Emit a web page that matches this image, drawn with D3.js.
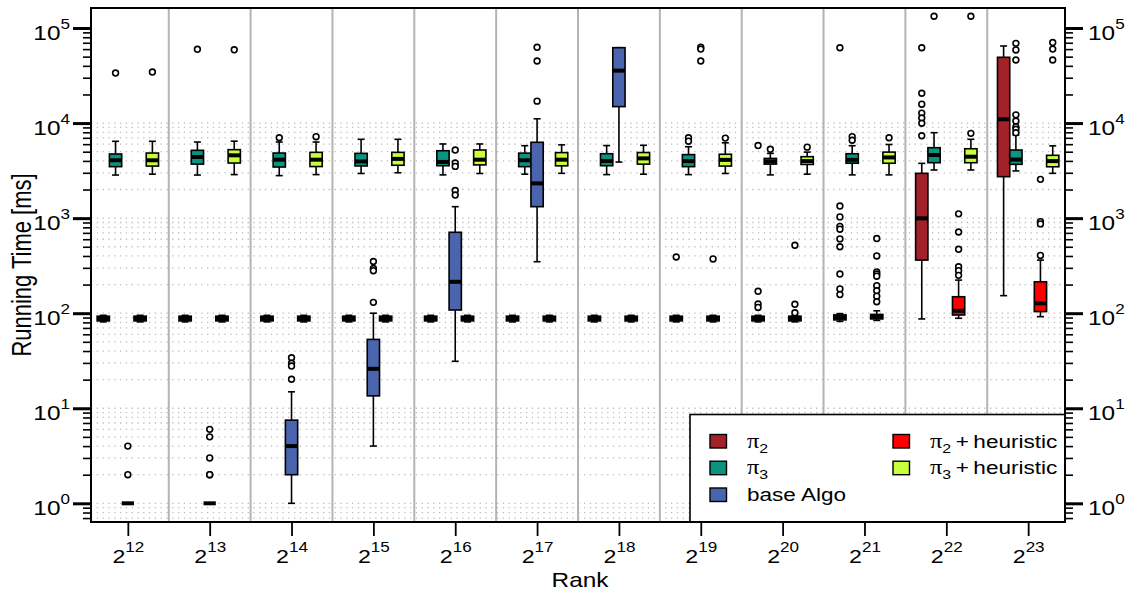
<!DOCTYPE html>
<html>
<head>
<meta charset="utf-8">
<script src="https://cdn.jsdelivr.net/npm/d3@7"></script>
<style>
  body { margin: 0; background: #fff; }
  text { font-family: "Liberation Sans", Arial, sans-serif; fill: #000; }
</style>
</head>
<body>
<svg id="chart"></svg>
<script>
// ranks are 2^12 .. 2^23
const ranks = [12, 13, 14, 15, 16, 17, 18, 19, 20, 21, 22, 23];
const seriesNames = ["π2", "π3", "base Algo", "π2 + heuristic", "π3 + heuristic"];

// box stats per rank: [whisker low, q1, median, q3, whisker high] (ms)
const pi2Stats = [
  [81, 83, 88, 93, 95], [81, 83, 88, 93, 95], [81, 83, 88, 93, 95], [81, 83, 88, 93, 95],
  [81, 83, 88, 93, 95], [81, 83, 88, 93, 95], [81, 83, 88, 93, 95], [81, 83, 88, 93, 95],
  [81, 83, 88, 93, 95], [82, 85, 90, 96, 99], [87, 362, 995, 2960, 3770], [153, 2730, 10960, 49200, 64700]
];
const pi3Stats = [
  [2840, 3480, 4060, 4730, 6430], [2840, 3700, 4400, 5170, 6320], [2800, 3450, 4120, 4840, 6320],
  [2950, 3540, 3950, 4800, 6750], [2850, 3560, 3900, 5120, 6030], [2900, 3480, 4060, 4830, 5780],
  [2870, 3560, 3980, 4760, 5800], [2870, 3480, 3980, 4660, 5640], [2850, 3700, 3950, 4250, 4800],
  [2850, 3780, 4100, 4760, 5780], [3210, 3830, 4610, 5510, 7920], [3140, 3680, 4130, 5210, 7500]
];
const baseStats = [
  [1, 1, 1, 1, 1], [1, 1, 1, 1, 1], [1, 2, 4, 7.5, 14.9], [4, 13.5, 26, 53, 100],
  [31.2, 108, 214, 710, 1320], [348, 1320, 2320, 6280, 11100], [3890, 14900, 35600, 62100, 62100],
  null, null, null, null, null
];
const pi2hStats = [
  [81, 83, 88, 93, 95], [81, 83, 88, 93, 95], [81, 83, 88, 93, 95], [81, 83, 88, 93, 95],
  [81, 83, 88, 93, 95], [81, 83, 88, 93, 95], [81, 83, 88, 93, 95], [81, 83, 88, 93, 95],
  [81, 83, 88, 93, 95], [84, 87, 92, 97, 106], [88.4, 95.7, 106, 149, 223], [92, 104, 127, 214, 362]
];
const pi3hStats = [
  [2900, 3530, 4060, 4840, 6430], [2870, 3800, 4580, 5250, 6450], [2870, 3490, 4120, 4920, 6320],
  [3000, 3600, 4200, 4920, 6750], [2950, 3630, 4120, 5210, 6030], [2960, 3550, 4120, 4890, 5900],
  [2900, 3700, 4250, 4900, 5840], [2950, 3530, 4100, 4700, 6200], [2900, 3670, 3980, 4430, 4950],
  [2850, 3780, 4350, 4950, 5950], [3210, 3830, 4430, 5370, 6750], [2960, 3470, 3980, 4580, 5760]
];

// outliers per rank
const pi2Out = [[], [], [], [], [], [], [], [390], [5800, 170, 125, 115],
  [62000, 1340, 1030, 820, 765, 605, 500, 258, 180, 157],
  [62000, 20600, 15800, 12700, 11300, 9960, 7360], []];
const pi3Out = [[33600], [59700], [7010], [], [], [], [], [7000, 6450], [5300], [7200, 6600],
  [133000], [69000, 58800, 46100, 12200, 10500, 9100, 8600, 7900]];
const baseOut = [[4, 2], [6, 5, 3, 2, 2], [34, 29.7, 27.8, 20.2], [350, 295, 280, 130],
  [5200, 3800, 3500, 1950, 1750], [62700, 45000, 17000], [], [62700, 60000, 45000], [], [], [], []];
const pi2hOut = [[], [], [], [], [], [], [], [372], [518, 124, 101],
  [610, 400, 272, 258, 245, 195, 172, 151, 132], [1110, 715, 470, 308, 280, 250], [2560, 920, 870, 405]];
const pi3hOut = [[34400], [59000], [7190], [], [], [], [], [6950], [5580], [7010], [133000, 7800],
  [70300, 60000, 46100]];

const yMajor = [1, 10, 100, 1000, 10000, 100000];

const colors = ["#a3222a", "#0a937f", "#4a65ad", "#ff0000", "#c8ff3c"];
const allStats = [pi2Stats, pi3Stats, baseStats, pi2hStats, pi3hStats];
const allOut = [pi2Out, pi3Out, baseOut, pi2hOut, pi3hOut];

const width = 1127, height = 590;
const pLeft = 91, pRight = 1065, pTop = 8, pBottom = 522;
const stretch = 1.22;   // text in the reference is a bit wide

const svg = d3.select("#chart").attr("width", width).attr("height", height);

const x = d3.scaleLinear().domain([-0.45, ranks.length - 0.55]).range([pLeft, pRight]);
const y = d3.scaleLog().domain([0.636, 162400]).range([pBottom, pTop]);
const slotW = 0.15;
const slot = s => (s - 2) * slotW;

// minor values for ticks and grid
let minors = [];
for (let k = -1; k <= 5; k++) {
  for (let m = 2; m <= 9; m++) minors.push(m * Math.pow(10, k));
}
minors = minors.filter(v => v >= 0.636 && v <= 162400);
const gridVals = minors.concat(yMajor).filter(v => v <= 10000);

// grid
svg.append("g").selectAll("line").data(gridVals).enter().append("line")
  .attr("x1", pLeft).attr("x2", pRight)
  .attr("y1", d => y(d)).attr("y2", d => y(d))
  .attr("stroke", "#bdbdbd").attr("stroke-width", 1.3)
  .attr("stroke-dasharray", "1.3 4.5");

// group separators
svg.append("g").selectAll("line").data(d3.range(ranks.length - 1)).enter().append("line")
  .attr("x1", d => x(d + 0.5)).attr("x2", d => x(d + 0.5))
  .attr("y1", pTop).attr("y2", pBottom)
  .attr("stroke", "#b4b4b4").attr("stroke-width", 2);

// boxes
let boxes = [];
allStats.forEach((st, s) => {
  st.forEach((d, i) => { if (d) boxes.push({ s: s, i: i, d: d }); });
});

const bg = svg.append("g").selectAll("g").data(boxes).enter().append("g");
bg.each(function (b) {
  const g = d3.select(this);
  const cx = x(b.i + slot(b.s));
  const x0 = x(b.i + slot(b.s) - slotW / 2), x1 = x(b.i + slot(b.s) + slotW / 2);
  const [lo, q1, med, q3, hi] = b.d;
  g.append("line").attr("x1", cx).attr("x2", cx).attr("y1", y(hi)).attr("y2", y(q3))
    .attr("stroke", "#000").attr("stroke-width", 1.6);
  g.append("line").attr("x1", cx).attr("x2", cx).attr("y1", y(q1)).attr("y2", y(lo))
    .attr("stroke", "#000").attr("stroke-width", 1.6);
  [lo, hi].forEach(v => {
    g.append("line").attr("x1", cx - 3.5).attr("x2", cx + 3.5).attr("y1", y(v)).attr("y2", y(v))
      .attr("stroke", "#000").attr("stroke-width", 1.6);
  });
  g.append("rect").attr("x", x0).attr("width", x1 - x0)
    .attr("y", y(q3)).attr("height", Math.max(0, y(q1) - y(q3)))
    .attr("fill", colors[b.s]).attr("stroke", "#000").attr("stroke-width", 1.6);
  g.append("line").attr("x1", x0).attr("x2", x1).attr("y1", y(med)).attr("y2", y(med))
    .attr("stroke", "#000").attr("stroke-width", 4);
});

// outliers
let outs = [];
allOut.forEach((o, s) => o.forEach((vals, i) => vals.forEach(v => outs.push({ s: s, i: i, v: v }))));
svg.append("g").selectAll("circle").data(outs).enter().append("circle")
  .attr("cx", d => x(d.i + slot(d.s)))
  .attr("cy", d => y(d.v))
  .attr("r", 2.9)
  .attr("fill", "#fff").attr("stroke", "#000").attr("stroke-width", 1.6);

// legend
const lg = svg.append("g");
lg.append("rect").attr("x", 690).attr("y", 414.5).attr("width", pRight - 690).attr("height", pBottom - 414.5)
  .attr("fill", "#fff").attr("stroke", "#000").attr("stroke-width", 1.6);
const legendPos = [[710, 441.5], [710, 468.2], [710, 495], [893, 441.5], [893, 468.2]];
seriesNames.forEach((name, s) => {
  const [lx, ly] = legendPos[s];
  lg.append("rect").attr("x", lx).attr("y", ly - 7).attr("width", 16.5).attr("height", 13.5)
    .attr("fill", colors[s]).attr("stroke", "#000").attr("stroke-width", 1.4);
  const t = lg.append("text")
    .attr("transform", `translate(${lx + 37},${ly + 6}) scale(${stretch},1)`)
    .style("font-size", "18.5px");
  if (name[0] === "π") {
    t.append("tspan").style("font-family", "'Liberation Serif', serif").style("font-size", "20px").text("π");
    t.append("tspan").attr("dy", 5).style("font-size", "13px").text(name[1]);
    if (name.length > 2) t.append("tspan").attr("dy", -5).text("\u2009+\u2009" + name.slice(5));
  } else {
    t.text(name);
  }
});

// axes
function cleanAxis(g, w) {
  g.select(".domain").remove();
  g.selectAll(".tick text").remove();
  g.selectAll(".tick line").attr("stroke", "#000").attr("stroke-width", w);
}
svg.append("g").attr("transform", `translate(${pLeft},0)`)
  .call(d3.axisLeft(y).tickValues(minors).tickSize(8).tickFormat(""))
  .call(g => cleanAxis(g, 1.6));
svg.append("g").attr("transform", `translate(${pRight},0)`)
  .call(d3.axisRight(y).tickValues(minors).tickSize(8).tickFormat(""))
  .call(g => cleanAxis(g, 1.6));

function supLabel(sel, tx, ty, anchor, base, exp, bs, es) {
  const t = sel.append("text")
    .attr("transform", `translate(${tx},${ty}) scale(${stretch},1)`)
    .attr("text-anchor", anchor)
    .style("font-size", bs + "px");
  t.append("tspan").text(base);
  t.append("tspan").attr("dy", -11).style("font-size", es + "px").text(exp);
}

const yl = svg.append("g").attr("transform", `translate(${pLeft},0)`)
  .call(d3.axisLeft(y).tickValues(yMajor).tickSize(18).tickFormat(""))
  .call(g => cleanAxis(g, 3));
yl.selectAll(".tick").each(function (d) {
  supLabel(d3.select(this), -21, 11.5, "end", "10", Math.round(Math.log10(d)), 20, 14);
});
const yr = svg.append("g").attr("transform", `translate(${pRight},0)`)
  .call(d3.axisRight(y).tickValues(yMajor).tickSize(18).tickFormat(""))
  .call(g => cleanAxis(g, 3));
yr.selectAll(".tick").each(function (d) {
  supLabel(d3.select(this), 23, 11.5, "start", "10", Math.round(Math.log10(d)), 20, 14);
});

const xa = svg.append("g").attr("transform", `translate(0,${pBottom})`)
  .call(d3.axisBottom(x).tickValues(d3.range(ranks.length)).tickSize(14).tickFormat(""))
  .call(g => cleanAxis(g, 1.8));
xa.selectAll(".tick").each(function (d) {
  supLabel(d3.select(this), 0, 40.5, "middle", "2", ranks[d], 19, 14);
});

// frame
svg.append("rect").attr("x", pLeft).attr("y", pTop).attr("width", pRight - pLeft).attr("height", pBottom - pTop)
  .attr("fill", "none").attr("stroke", "#000").attr("stroke-width", 2);

// axis titles
svg.append("text")
  .attr("transform", `translate(580,587) scale(${stretch},1)`)
  .attr("text-anchor", "middle").style("font-size", "20px").text("Rank");
svg.append("text")
  .attr("transform", `translate(30.5,265) scale(${stretch},1) rotate(-90)`)
  .attr("text-anchor", "middle").style("font-size", "22px").text("Running Time [ms]");
</script>
</body>
</html>
